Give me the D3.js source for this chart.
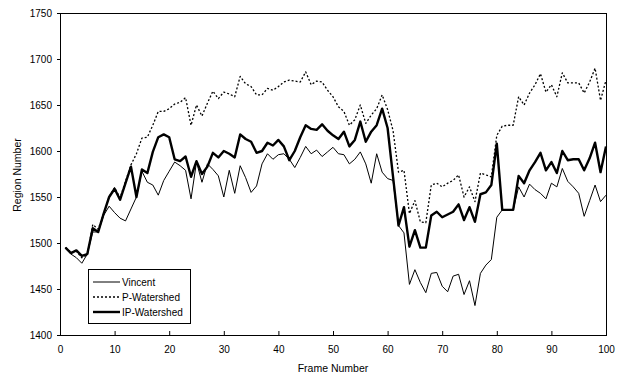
<!DOCTYPE html>
<html>
<head>
<meta charset="utf-8">
<script src="https://cdn.jsdelivr.net/npm/d3@7"></script>
<style>
body{margin:0;background:#fff;}
text{font-family:"Liberation Sans",Arial,sans-serif;fill:#000;}
</style>
</head>
<body>
<div id="viz"></div>
<script>
///Declarations
//1. Data
const FRAMES = d3.range(1, 101);
const X_TICKS = [0,10,20,30,40,50,60,70,80,90,100];
const Y_TICKS = [1400,1450,1500,1550,1600,1650,1700,1750];
const SERIES_NAMES = ["Vincent","P-Watershed","IP-Watershed"];

const VINCENT = [1495,1488,1484,1478,1488,1512,1512,1530,1540,1533,
                 1527,1524,1537,1550,1578,1566,1563,1552,1568,1578,
                 1588,1584,1579,1548,1588,1566,1586,1580,1573,1550,
                 1579,1554,1584,1571,1555,1562,1586,1597,1591,1596,
                 1597,1591,1582,1593,1605,1597,1601,1594,1599,1604,
                 1597,1596,1586,1591,1599,1586,1565,1597,1577,1570,
                 1568,1519,1511,1455,1471,1457,1446,1467,1468,1453,
                 1447,1464,1466,1444,1459,1432,1467,1476,1482,1528,
                 1536,1536,1536,1561,1550,1564,1558,1554,1548,1565,
                 1561,1581,1567,1561,1554,1529,1546,1563,1545,1552];

const P_WATERSHED = [1495,1490,1491,1484,1487,1520,1515,1532,1550,1560,
                     1549,1567,1585,1597,1614,1615,1628,1643,1643,1646,
                     1651,1653,1658,1628,1650,1638,1652,1665,1657,1664,
                     1662,1659,1681,1673,1670,1661,1661,1668,1666,1670,
                     1675,1677,1676,1675,1686,1672,1676,1675,1666,1659,
                     1648,1643,1628,1634,1650,1630,1639,1646,1661,1645,
                     1622,1577,1579,1532,1546,1523,1522,1563,1565,1561,
                     1565,1568,1574,1550,1561,1545,1576,1574,1572,1617,
                     1627,1628,1628,1659,1650,1663,1672,1684,1664,1672,
                     1659,1685,1674,1674,1674,1663,1675,1690,1655,1677];

const IP_WATERSHED = [1495,1489,1492,1486,1488,1516,1512,1532,1550,1559,
                      1547,1565,1583,1550,1580,1576,1599,1615,1618,1615,
                      1591,1589,1594,1572,1589,1575,1583,1598,1593,1600,
                      1597,1593,1618,1613,1610,1598,1600,1609,1606,1612,
                      1605,1590,1600,1615,1628,1624,1623,1629,1622,1617,
                      1613,1621,1605,1612,1632,1610,1621,1628,1646,1625,
                      1572,1519,1539,1496,1514,1495,1495,1530,1534,1528,
                      1531,1534,1542,1525,1539,1523,1553,1555,1563,1608,
                      1536,1536,1536,1573,1565,1579,1588,1598,1579,1588,
                      1576,1600,1590,1591,1591,1579,1592,1609,1577,1605];

//2. Chart layout
const width = 623, height = 375;
const margin = {top: 13, right: 17, bottom: 40, left: 60};
var svg;
var x = d3.scaleLinear().domain([0, 100]).range([margin.left, width - margin.right]);
var y = d3.scaleLinear().domain([1400, 1750]).range([height - margin.bottom, margin.top]);

// line styles per series, same order as SERIES_NAMES
const STYLES = [
    {w: 1, dash: null},
    {w: 1.3, dash: "2,2"},
    {w: 2.4, dash: null}
];

function draw_axes(){
    svg.append("g")
        .attr("transform", "translate(0," + y.range()[0] + ")")
        .call(d3.axisBottom(x).tickValues(X_TICKS).tickFormat(d3.format("d"))
            .tickSizeInner(-4).tickSizeOuter(0).tickPadding(11))
        .call(g => g.select(".domain").remove())
        .call(g => g.selectAll("text").attr("font-size", 10).attr("font-family", null));

    svg.append("g")
        .attr("transform", "translate(" + x.range()[0] + ",0)")
        .call(d3.axisLeft(y).tickValues(Y_TICKS).tickFormat(d3.format("d"))
            .tickSizeInner(3).tickSizeOuter(0).tickPadding(5))
        .call(g => g.select(".domain").remove())
        .call(g => g.selectAll("text").attr("font-size", 10).attr("font-family", null));

    // plot frame
    svg.append("rect")
        .attr("x", x.range()[0] + 0.5).attr("y", y.range()[1] + 0.5)
        .attr("width", x.range()[1] - x.range()[0])
        .attr("height", y.range()[0] - y.range()[1])
        .attr("fill", "none").attr("stroke", "#000");

    svg.append("text")
        .attr("x", (x.range()[0] + x.range()[1]) / 2).attr("y", 372)
        .attr("text-anchor", "middle").attr("font-size", 10.5)
        .text("Frame Number");

    svg.append("text")
        .attr("transform", "translate(21,175) rotate(-90)")
        .attr("text-anchor", "middle").attr("font-size", 10.5)
        .text("Region Number");
}

function draw_lines(){
    let line = d3.line().x((d, i) => x(FRAMES[i])).y(d => y(d));
    [VINCENT, P_WATERSHED, IP_WATERSHED].forEach((values, k) => {
        svg.append("path")
            .datum(values)
            .attr("d", line)
            .attr("fill", "none")
            .attr("stroke", "#000")
            .attr("stroke-width", STYLES[k].w)
            .attr("stroke-dasharray", STYLES[k].dash)
            .attr("stroke-linejoin", "round");
    });
}

function draw_legend(){
    let lg = svg.append("g").attr("transform", "translate(88,269)");
    lg.append("rect").attr("x", 0.5).attr("y", 0.5).attr("width", 102).attr("height", 54)
        .attr("fill", "#fff").attr("stroke", "#000");
    SERIES_NAMES.forEach((name, k) => {
        let cy = 13 + k * 15;
        lg.append("line").attr("x1", 5).attr("x2", 32).attr("y1", cy).attr("y2", cy)
            .attr("stroke", "#000").attr("stroke-width", STYLES[k].w)
            .attr("stroke-dasharray", STYLES[k].dash);
        lg.append("text").attr("x", 34).attr("y", cy).attr("dy", "0.35em")
            .attr("font-size", 10).text(name);
    });
}

function init(){
    svg = d3.select("#viz").append("svg").attr("width", width).attr("height", height);
    draw_axes();
    draw_lines();
    draw_legend();
}
init();
</script>
</body>
</html>
